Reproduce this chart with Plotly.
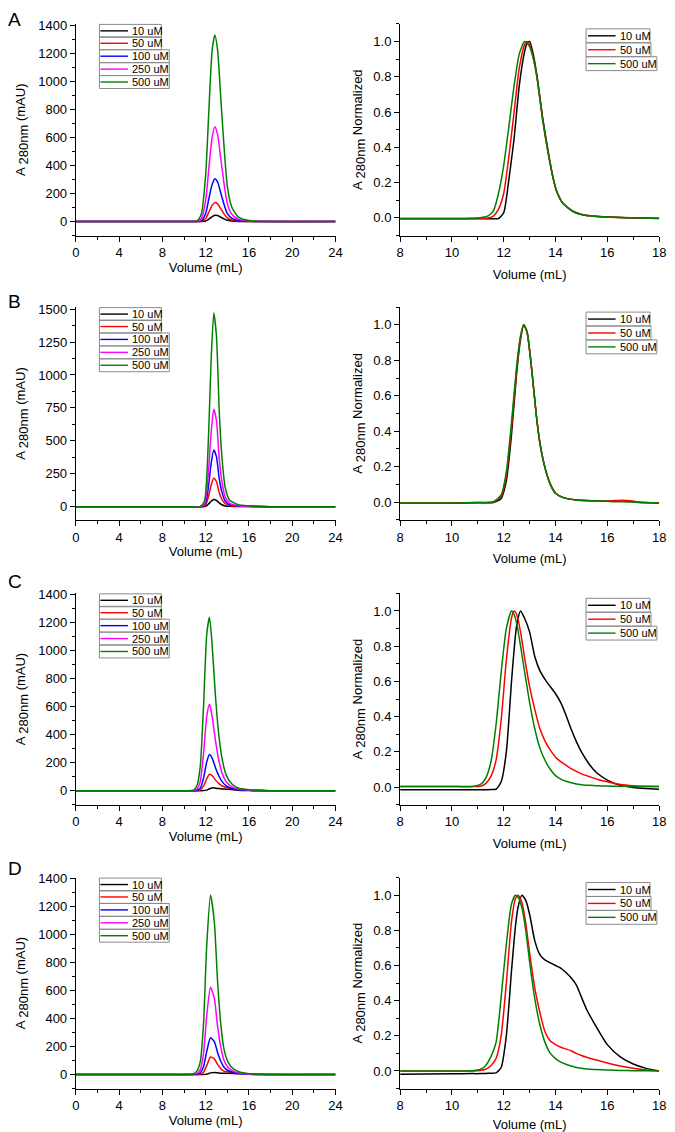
import plotly.graph_objects as go

# ---------------- DATA ----------------
# Row A, absolute (mAU)
vol_a = [0, 8, 10.5, 11.2, 11.6, 12.0, 12.3, 12.6, 12.85, 13.1, 13.4, 13.7, 14.0, 14.4, 15.0, 16.0, 18, 24]
a_10 = [0, 0, 0, 0, 0, 4, 17, 35, 45, 43, 31, 19, 9, 4, 1.2, 0.3, 0, 0]
a_50 = [0, 0, 0, 0, 2, 22, 68, 115, 135, 126, 91, 55, 26, 11, 3.5, 0.7, 0, 0]
a_100 = [0, 0, 0, 0, 6, 58, 165, 265, 305, 282, 203, 122, 58, 24, 8, 1.5, 0, 0]
a_250 = [0, 0, 0, 1, 20, 150, 385, 600, 675, 620, 446, 270, 128, 54, 17, 3, 0, 0]
a_500 = [0, 0, 0, 4, 53, 333, 798, 1224, 1330, 1224, 878, 532, 253, 106, 33, 7, 0, 0]

# Row A, normalized
vol_a_n = [8, 10, 11.0, 11.4, 11.6, 11.8, 12.0, 12.2, 12.4, 12.6, 12.8, 12.9, 13.0, 13.15, 13.3,
           13.5, 13.7, 13.9, 14.05, 14.3, 14.7, 15.0, 15.5, 16.5, 18]
an_10 = [-0.005, -0.005, -0.005, -0.005, -0.004, -0.003, 0.03, 0.22, 0.45, 0.75, 0.94, 0.99, 1.0,
         0.92, 0.79, 0.57, 0.39, 0.23, 0.15, 0.08, 0.035, 0.02, 0.01, 0.003, -0.003]
an_50 = [-0.003, -0.003, -0.002, 0.0, 0.01, 0.05, 0.14, 0.35, 0.6, 0.85, 0.98, 1.0, 0.98,
         0.9, 0.78, 0.56, 0.38, 0.23, 0.147, 0.08, 0.035, 0.02, 0.01, 0.003, -0.002]
an_500 = [-0.003, -0.003, 0.0, 0.012, 0.04, 0.14, 0.3, 0.52, 0.75, 0.93, 1.0, 0.99, 0.97,
          0.9, 0.78, 0.56, 0.38, 0.23, 0.147, 0.08, 0.035, 0.02, 0.01, 0.003, -0.002]

# Row B, absolute (mAU)
vol_b = [0, 8, 10.5, 11.5, 11.9, 12.1, 12.3, 12.5, 12.75, 13.0, 13.25, 13.5, 13.8, 14.2, 15.0, 16.0, 18, 24]
b_10 = [0, 0, 0, 0, 1.5, 8, 23, 41, 55, 48, 28, 14, 5.5, 2, 0.5, 0.2, 0, 0]
b_50 = [0, 0, 0, 0, 6, 32, 90, 161, 215, 189, 108, 56, 22, 8, 2, 1, 0, 0]
b_100 = [0, 0, 0, 0, 13, 65, 181, 323, 430, 378, 215, 112, 43, 15, 4, 2, 0, 0]
b_250 = [0, 0, 0, 0, 22, 111, 311, 555, 740, 651, 370, 192, 74, 26, 7, 3, 0, 0]
b_500 = [0, 0, 0, 0, 44, 220, 617, 1100, 1470, 1294, 735, 382, 147, 51, 15, 6, 0, 0]

# Row B, normalized
vol_b_n = [8, 10, 11.0, 11.6, 11.9, 12.1, 12.3, 12.5, 12.65, 12.77, 12.9, 13.1, 13.25, 13.4, 13.6,
           13.8, 14.0, 14.3, 14.8, 15.5, 16.0, 16.3, 16.6, 16.9, 17.2, 18]
bn_10 = [-0.006, -0.006, -0.004, -0.002, 0.02, 0.12, 0.38, 0.73, 0.92, 1.0, 0.96, 0.72, 0.5, 0.33,
         0.19, 0.1, 0.05, 0.025, 0.012, 0.007, 0.005, 0.006, 0.007, 0.004, -0.001, -0.006]
bn_50 = [-0.005, -0.005, -0.003, 0.0, 0.03, 0.15, 0.42, 0.75, 0.93, 1.0, 0.96, 0.72, 0.5, 0.33,
         0.19, 0.1, 0.05, 0.025, 0.012, 0.007, 0.006, 0.009, 0.011, 0.007, 0.0, -0.005]
bn_500 = [-0.005, -0.005, -0.003, 0.002, 0.04, 0.17, 0.45, 0.77, 0.94, 1.0, 0.96, 0.72, 0.5, 0.33,
          0.19, 0.1, 0.05, 0.025, 0.012, 0.007, 0.004, 0.002, 0.002, 0.0, -0.002, -0.005]

# Row C, absolute (mAU)
vol_c = [0, 8, 10.3, 10.9, 11.2, 11.5, 11.8, 12.1, 12.35, 12.6, 12.9, 13.2, 13.5, 13.9, 14.4, 15.0, 16.0, 17.0, 18, 24]
c_10 = [0, 0, 0, 0, 0, 0, 0.5, 4, 14, 20, 18, 15, 12.6, 11, 8, 4, 1, 0, 0, 0]
c_50 = [0, 0, 0, 0, 1, 6, 32, 85, 117, 107, 77, 52, 35, 22, 15, 9, 3.5, 1, 0, 0]
c_100 = [0, 0, 0, 0, 3, 18, 88, 205, 258, 232, 165, 108, 66, 34, 16, 7, 3, 1, 0, 0]
c_250 = [0, 0, 0, 2, 12, 65, 260, 530, 615, 530, 360, 222, 130, 64, 29, 11, 4, 2, 0, 0]
c_500 = [0, 0, 0, 6, 37, 173, 593, 1112, 1235, 1037, 679, 408, 235, 111, 49, 19, 7, 4, 0, 0]

# Row C, normalized
vol_c_n = [8, 10, 10.8, 11.1, 11.3, 11.5, 11.7, 11.9, 12.1, 12.3, 12.4, 12.5, 12.65, 12.8, 13.0, 13.2,
           13.4, 13.6, 13.8, 14.0, 14.2, 14.4, 14.6, 14.8, 15.0, 15.3, 15.6, 16.0, 16.5, 17.0, 17.5, 18]
cn_10 = [-0.015, -0.015, -0.015, -0.015, -0.015, -0.014, -0.012, 0.03, 0.2, 0.6, 0.78, 0.92, 1.0, 0.96,
         0.88, 0.74, 0.66, 0.61, 0.57, 0.53, 0.48, 0.41, 0.33, 0.26, 0.2, 0.13, 0.08, 0.04, 0.01,
         -0.002, -0.008, -0.012]
cn_50 = [0.003, 0.003, 0.003, 0.005, 0.02, 0.06, 0.15, 0.38, 0.72, 0.96, 1.0, 0.98, 0.88, 0.74,
         0.57, 0.44, 0.33, 0.26, 0.21, 0.17, 0.145, 0.125, 0.105, 0.09, 0.075, 0.06, 0.045, 0.03,
         0.015, 0.008, 0.005, 0.004]
cn_500 = [0.003, 0.003, 0.004, 0.015, 0.05, 0.14, 0.35, 0.65, 0.9, 1.0, 0.98, 0.93, 0.8, 0.66,
          0.48, 0.33, 0.22, 0.15, 0.1, 0.065, 0.045, 0.033, 0.025, 0.018, 0.014, 0.01, 0.008, 0.006,
          0.005, 0.004, 0.004, 0.004]

# Row D, absolute (mAU)
vol_d = [0, 8, 10.3, 10.9, 11.2, 11.5, 11.8, 12.1, 12.45, 12.8, 13.1, 13.4, 13.7, 14.1, 14.6, 15.2, 16.0, 17.0, 18, 24]
d_10 = [0, 0, 0, 0, 0, 0, 0, 3, 12, 15, 13, 10, 9.3, 9, 8, 5, 2, 0.6, 0, 0]
d_50 = [0, 0, 0, 0, 1, 4, 17, 64, 125, 112, 72, 42, 24, 18, 15, 10, 6, 2, 0, 0]
d_100 = [0, 0, 0, 0, 3, 12, 55, 165, 262, 235, 158, 95, 52, 27, 14, 6, 2, 1, 0, 0]
d_250 = [0, 0, 0, 2, 9, 35, 150, 420, 622, 545, 345, 195, 100, 48, 23, 10, 4, 1, 0, 0]
d_500 = [0, 0, 0, 6, 26, 90, 358, 922, 1280, 1088, 666, 358, 179, 83, 38, 17, 6, 3, 0, 0]

# Row D, normalized
vol_d_n = [8, 10, 10.8, 11.1, 11.3, 11.5, 11.7, 11.9, 12.1, 12.3, 12.45, 12.55, 12.7, 12.85, 13.0, 13.2,
           13.4, 13.6, 13.8, 14.0, 14.2, 14.4, 14.6, 14.8, 15.0, 15.2, 15.5, 16.0, 16.5, 17.0, 17.5, 18]
dn_10 = [-0.018, -0.016, -0.015, -0.015, -0.014, -0.013, -0.011, 0.02, 0.2, 0.57, 0.82, 0.93, 1.0, 0.97,
         0.89, 0.74, 0.66, 0.63, 0.615, 0.6, 0.585, 0.56, 0.53, 0.49, 0.42, 0.35, 0.27, 0.15, 0.08,
         0.04, 0.015, 0.0]
dn_50 = [0.0, 0.0, 0.0, 0.003, 0.01, 0.03, 0.07, 0.2, 0.5, 0.85, 0.98, 1.0, 0.96, 0.84, 0.67, 0.47,
         0.33, 0.22, 0.17, 0.15, 0.135, 0.125, 0.115, 0.1, 0.088, 0.078, 0.065, 0.045, 0.028, 0.015,
         0.006, 0.002]
dn_500 = [0.0, 0.0, 0.002, 0.01, 0.03, 0.08, 0.16, 0.42, 0.72, 0.95, 1.0, 0.99, 0.93, 0.8, 0.62,
          0.41, 0.26, 0.16, 0.1, 0.07, 0.05, 0.038, 0.028, 0.02, 0.015, 0.011, 0.008, 0.005, 0.003,
          0.002, 0.001, 0.0]

labels_abs = ["10 uM", "50 uM", "100 uM", "250 uM", "500 uM"]
labels_norm = ["10 uM", "50 uM", "500 uM"]
panel_letters = ["A", "B", "C", "D"]

# ---------------- STYLE / LAYOUT ----------------
W, H = 675, 1132
FONT = "Liberation Sans, Arial, sans-serif"
COLORS = {"10 uM": "#000000", "50 uM": "#FF0000", "100 uM": "#0000FF",
          "250 uM": "#FF00FF", "500 uM": "#008000"}

rows_px = [(17, 230), (302, 516), (590, 802.7), (876, 1088.3)]
cols_px = [(73, 337), (402.7, 666)]
letter_px = [12.5, 296, 578.5, 866.5]

abs_sets = [
    (vol_a, [a_10, a_50, a_100, a_250, a_500], [-100, 1409], 200, 100),
    (vol_b, [b_10, b_50, b_100, b_250, b_500], [-100, 1515], 250, 125),
    (vol_c, [c_10, c_50, c_100, c_250, c_500], [-100, 1405], 200, 100),
    (vol_d, [d_10, d_50, d_100, d_250, d_500], [-100, 1405], 200, 100),
]
norm_sets = [
    (vol_a_n, [an_10, an_50, an_500]),
    (vol_b_n, [bn_10, bn_50, bn_500]),
    (vol_c_n, [cn_10, cn_50, cn_500]),
    (vol_d_n, [dn_10, dn_50, dn_500]),
]

fig = go.Figure()
shapes, annotations = [], []
layout = {}

axis_common = dict(showline=True, linecolor="black", linewidth=1.2, mirror=False,
                   ticks="outside", ticklen=5, tickwidth=1.2, tickcolor="black",
                   showgrid=False, zeroline=False,
                   tickfont=dict(family=FONT, size=13, color="black"))


def add_legend(n, labels, wpx, hpx, left, right_list, line0, line1, text0, centers, half):
    xr = "x domain" if n == 1 else f"x{n} domain"
    yr = "y domain" if n == 1 else f"y{n} domain"
    for lab, r, c in zip(labels, right_list, centers):
        shapes.append(dict(type="rect", xref=xr, yref=yr,
                           x0=left / wpx, x1=r / wpx,
                           y0=1 - (c + half) / hpx, y1=1 - (c - half) / hpx,
                           line=dict(color="#8a8a8a", width=1), fillcolor="rgba(255,255,255,0)"))
        shapes.append(dict(type="line", xref=xr, yref=yr,
                           x0=line0 / wpx, x1=line1 / wpx,
                           y0=1 - c / hpx, y1=1 - c / hpx,
                           line=dict(color=COLORS[lab], width=1.4)))
        annotations.append(dict(xref=xr, yref=yr, x=text0 / wpx, y=1 - c / hpx,
                                text=lab, showarrow=False, xanchor="left", yanchor="middle",
                                font=dict(family=FONT, size=11, color="black")))


SUBTXT = "A <span style='baseline-shift:-3px'>280nm</span>"

for r in range(4):
    y0p, y1p = rows_px[r]
    hpx = y1p - y0p
    ydom = [1 - y1p / H, 1 - y0p / H]
    for c in range(2):
        n = r * 2 + c + 1
        xs = "" if n == 1 else str(n)
        x0p, x1p = cols_px[c]
        wpx = x1p - x0p
        xdom = [x0p / W, x1p / W]
        if c == 0:
            vol, ys, yrng, dt, mdt = abs_sets[r]
            labels = labels_abs
            xrng, xdt, xmdt = [0, 24], 4, 2
            ytitle = SUBTXT + " (mAU)"
            ystand, xstand = 9, 0
            yfmt = None
        else:
            vol, ys = norm_sets[r]
            labels = labels_norm
            dt, mdt, yrng = 0.2, 0.1, [-0.1, 1.1]
            xrng, xdt, xmdt = [8, 18], 2, 1
            ytitle = SUBTXT + " Normalized"
            ystand, xstand = 7, 10
            yfmt = ".1f"
        for lab, yv in zip(labels, ys):
            fig.add_trace(go.Scatter(x=vol, y=yv, mode="lines", name=lab, showlegend=False,
                                     line=dict(color=COLORS[lab], width=1.5, shape="spline", smoothing=0.6),
                                     xaxis="x" + xs, yaxis="y" + xs))
        layout["xaxis" + xs] = dict(axis_common, domain=xdom, range=xrng, anchor="y" + xs,
                                    tick0=0, dtick=xdt,
                                    minor=dict(dtick=xmdt, ticklen=3, tickwidth=1, tickcolor="black", ticks="outside"),
                                    title=dict(text="Volume (mL)", standoff=xstand,
                                               font=dict(family=FONT, size=13, color="black")))
        yax = dict(axis_common, domain=ydom, range=yrng, anchor="x" + xs,
                   tick0=0, dtick=dt,
                   minor=dict(dtick=mdt, ticklen=3, tickwidth=1, tickcolor="black", ticks="outside"),
                   title=dict(text=ytitle, standoff=ystand,
                              font=dict(family=FONT, size=13, color="black")))
        if yfmt:
            yax["tickformat"] = yfmt
        layout["yaxis" + xs] = yax
        if c == 0:
            add_legend(n, labels, wpx, hpx, 24, [87, 87, 95, 95, 95], 25, 53, 55,
                       [7, 19.5, 32.5, 45.5, 58.5], 6.5)
        else:
            add_legend(n, labels, wpx, hpx, 189, [254, 255, 261], 191, 219, 221,
                       [12, 26, 40], 7)
    annotations.append(dict(xref="paper", yref="paper", x=2 / W, y=1 - letter_px[r] / H,
                            text=panel_letters[r], showarrow=False, xanchor="left", yanchor="middle",
                            font=dict(family=FONT, size=19, color="black")))

fig.update_layout(**layout)
fig.update_layout(width=W, height=H, margin=dict(l=0, r=0, t=0, b=0),
                  paper_bgcolor="white", plot_bgcolor="white",
                  showlegend=False, shapes=shapes, annotations=annotations,
                  font=dict(family=FONT, color="black"))

fig.write_html("out.html", config={"displayModeBar": False},
               post_script="document.body.style.margin='0';document.body.style.overflow='hidden';")
